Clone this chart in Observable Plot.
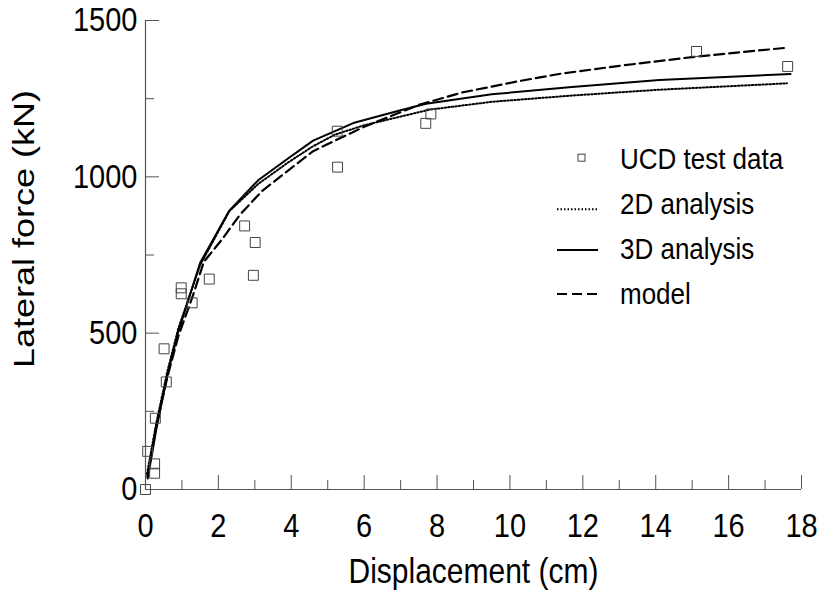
<!DOCTYPE html>
<html>
<head>
<meta charset="utf-8">
<script src="https://cdn.jsdelivr.net/npm/d3@7"></script>
<script src="https://cdn.jsdelivr.net/npm/@observablehq/plot@0.6"></script>
<style>
  html, body { margin: 0; padding: 0; background: #fff; }
  #wrap { position: relative; width: 821px; height: 591px; }
  #legend { position: absolute; left: 0; top: 0; pointer-events: none; }
</style>
</head>
<body>
<div id="wrap"></div>
<script>
// ---- data ----
const testX = [0, 0.06, 0.25, 0.25, 0.27, 0.51, 0.57, 0.98, 0.98, 1.28, 1.75, 2.72, 2.96, 3.01, 5.27, 5.26, 7.69, 7.83, 15.12, 17.62];
const testY = [0, 122, 82, 52, 228, 450, 344, 645, 626, 597, 673, 843, 685, 790, 1031, 1146, 1171, 1201, 1401, 1353];

const d2X = [0.04, 0.3, 0.6, 0.9, 1.5, 2.3, 3.1, 3.9, 4.6, 5.2, 6.0, 7.8, 9.5, 11.7, 14.0, 17.6];
const d2Y = [50, 215, 378, 515, 718, 890, 978, 1045, 1098, 1135, 1165, 1215, 1240, 1260, 1278, 1299];

const d3X = [0.06, 0.3, 0.6, 0.9, 1.5, 2.3, 3.1, 3.9, 4.6, 5.7, 7.0, 7.7, 9.5, 11.7, 14.1, 17.7];
const d3Y = [35, 195, 365, 505, 725, 892, 990, 1058, 1116, 1172, 1213, 1234, 1264, 1287, 1310, 1329];

const modelX = [0.05, 0.3, 0.6, 0.9, 1.3, 1.6, 2.1, 2.6, 3.2, 3.8, 4.6, 5.2, 6.0, 7.5, 8.7, 10.2, 11.4, 13.0, 15.0, 17.6];
const modelY = [40, 205, 360, 490, 620, 728, 800, 880, 955, 1010, 1082, 1116, 1160, 1230, 1270, 1305, 1330, 1355, 1383, 1413];

const xMajor = [0, 2, 4, 6, 8, 10, 12, 14, 16, 18];
const xMinor = [1, 3, 5, 7, 9, 11, 13, 15, 17];
const yMajor = [0, 500, 1000, 1500];
const yMinor = [250, 750, 1250];

const xTitle = "Displacement (cm)";
const yTitle = "Lateral force (kN)";
const legendLabels = ["UCD test data", "2D analysis", "3D analysis", "model"];

// ---- tables ----
const tests = testX.map((x, i) => ({x, y: testY[i]}));
const toRows = (xs, ys) => xs.map((x, i) => ({x, y: ys[i]}));
const d2 = toRows(d2X, d2Y), d3 = toRows(d3X, d3Y), model = toRows(modelX, modelY);

const W = 821, H = 591, mL = 145, mR = 20, mT = 20, mB = 102;
const fw = W - mL - mR, fh = H - mT - mB;
const axisColor = "#555";
const FONT = "'Liberation Sans', Arial, Helvetica, sans-serif";
const S = 1.15; // vertical glyph stretch
const SR = 1.2; // stretch of the rotated title along its length

const chart = Plot.plot({
  width: W, height: H,
  marginLeft: mL, marginRight: mR, marginTop: mT, marginBottom: mB,
  style: {fontFamily: FONT, background: "#fff", color: "#000"},
  x: {domain: [0, 18]},
  y: {domain: [0, 1500]},
  marks: [
    // ticks pointing inward
    Plot.ruleX(xMajor, {x: d => d, stroke: axisColor, insetTop: fh - 14}),
    Plot.ruleX(xMinor, {x: d => d, stroke: axisColor, insetTop: fh - 9}),
    Plot.ruleY(yMajor, {y: d => d, stroke: axisColor, insetRight: fw - 14}),
    Plot.ruleY(yMinor, {y: d => d, stroke: axisColor, insetRight: fw - 9}),
    Plot.axisX({ticks: xMajor, tickSize: 0, tickPadding: 24, fontSize: 29, label: null, tickFormat: d => String(d)}),
    Plot.axisY({ticks: yMajor, tickSize: 0, tickPadding: 8, fontSize: 29, label: null, tickFormat: d => String(d)}),
    Plot.text([xTitle], {frameAnchor: "bottom", lineAnchor: "top", dy: 69, fontSize: 30, fill: "#000"}),
    Plot.text([yTitle], {frameAnchor: "left", textAnchor: "middle", rotate: -90, lineAnchor: "top", dx: -133, dy: -26, fontSize: 30, fill: "#000"}),
    // curves
    Plot.line(d2, {x: "x", y: "y", stroke: "#000", strokeWidth: 2, strokeDasharray: "1.5,2"}),
    Plot.line(d3, {x: "x", y: "y", stroke: "#000", strokeWidth: 2}),
    Plot.line(model, {x: "x", y: "y", stroke: "#000", strokeWidth: 2.2, strokeDasharray: "10,5"}),
    Plot.dot(tests, {x: "x", y: "y", symbol: "square", r: 5.6, stroke: "#444", strokeWidth: 1, fill: "none"}),
    // axis lines
    Plot.ruleY([0], {stroke: axisColor, strokeWidth: 1.2}),
    Plot.ruleX([0], {stroke: axisColor, strokeWidth: 1.2})
  ]
});

chart.querySelectorAll("text").forEach(t => {
  const tr = t.getAttribute("transform") || "";
  t.setAttribute("transform", tr + (tr.includes("rotate") ? ` scale(${SR},1)` : ` scale(1,${S})`));
});

const wrap = document.getElementById("wrap");
wrap.appendChild(chart);

// ---- legend overlay ----
const ns = "http://www.w3.org/2000/svg";
const lg = document.createElementNS(ns, "svg");
lg.setAttribute("id", "legend");
lg.setAttribute("width", W);
lg.setAttribute("height", H);
const rows = [
  {label: legendLabels[0], base: 168.5, sym: "square", ly: 157.7},
  {label: legendLabels[1], base: 213.5, sym: "dot", ly: 209.3},
  {label: legendLabels[2], base: 258.5, sym: "solid", ly: 250},
  {label: legendLabels[3], base: 303.5, sym: "dash", ly: 294}
];
rows.forEach(r => {
  if (r.sym === "square") {
    const s = document.createElementNS(ns, "rect");
    s.setAttribute("x", 578); s.setAttribute("y", r.ly - 3.5);
    s.setAttribute("width", 7); s.setAttribute("height", 7);
    s.setAttribute("fill", "none"); s.setAttribute("stroke", "#444");
    lg.appendChild(s);
  } else {
    const l = document.createElementNS(ns, "line");
    l.setAttribute("x1", 557); l.setAttribute("x2", 598);
    l.setAttribute("y1", r.ly); l.setAttribute("y2", r.ly);
    l.setAttribute("stroke", "#000");
    if (r.sym === "dot") { l.setAttribute("stroke-width", 2); l.setAttribute("stroke-dasharray", "1.5,2"); }
    if (r.sym === "solid") { l.setAttribute("stroke-width", 2); }
    if (r.sym === "dash") { l.setAttribute("stroke-width", 2.2); l.setAttribute("stroke-dasharray", "10,5"); }
    lg.appendChild(l);
  }
  const t = document.createElementNS(ns, "text");
  t.setAttribute("transform", `translate(620,${r.base}) scale(1,${S})`);
  t.setAttribute("font-family", FONT);
  t.setAttribute("font-size", 26);
  t.setAttribute("fill", "#000");
  t.textContent = r.label;
  lg.appendChild(t);
});
wrap.appendChild(lg);
</script>
</body>
</html>
